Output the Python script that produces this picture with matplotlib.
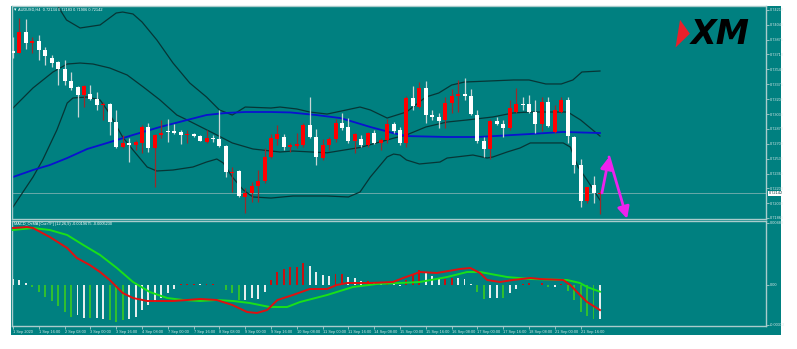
import matplotlib
matplotlib.use("Agg")
import matplotlib.pyplot as plt
from matplotlib.patches import Rectangle, Polygon
import numpy as np

# ---------------- data ----------------
opens = [0.73748,0.73725,0.73962,0.73838,0.73860,0.73759,0.73669,0.73624,0.73545,0.73410,
 0.73342,0.73252,0.73263,0.73207,0.73139,0.73150,0.72947,0.72665,0.72711,0.72688,
 0.72711,0.72891,0.72654,0.72801,0.72846,0.72846,0.72835,0.72801,0.72812,0.72789,
 0.72722,0.72767,0.72756,0.72677,0.72372,0.72395,0.72102,0.72147,0.72226,0.72282,
 0.72553,0.72756,0.72778,0.72665,0.72677,0.72688,0.72913,0.72778,0.72541,0.72688,
 0.72756,0.72936,0.72891,0.72733,0.72756,0.72688,0.72823,0.72711,0.72744,0.72925,
 0.72857,0.72711,0.73218,0.73116,0.73331,0.73026,0.73004,0.72970,0.73161,0.73240,
 0.73263,0.73240,0.73026,0.72733,0.72643,0.72959,0.72925,0.72880,0.73060,0.73150,
 0.73150,0.73060,0.72925,0.73173,0.72835,0.73060,0.73195,0.72778,0.72462,0.72057,
 0.72237,0.72134]
highs = [0.73906,0.74120,0.74110,0.73906,0.73928,0.73793,0.73703,0.73635,0.73646,0.73511,
 0.73350,0.73360,0.73364,0.73285,0.73173,0.73161,0.73083,0.72801,0.72767,0.72744,
 0.72913,0.72936,0.72810,0.72970,0.72981,0.72925,0.72857,0.72857,0.72823,0.72801,
 0.72857,0.72801,0.73083,0.72688,0.72440,0.72406,0.72203,0.72271,0.72406,0.72654,
 0.72812,0.72913,0.72812,0.72711,0.72823,0.72936,0.73229,0.72868,0.72756,0.72778,
 0.72981,0.73049,0.72992,0.72823,0.72801,0.72835,0.72857,0.72767,0.72981,0.72947,
 0.72891,0.73240,0.73353,0.73398,0.73410,0.73083,0.73049,0.73229,0.73319,0.73421,
 0.73444,0.73319,0.73083,0.72778,0.72981,0.73004,0.72970,0.73195,0.73331,0.73229,
 0.73252,0.73195,0.73229,0.73229,0.73139,0.73229,0.73229,0.72785,0.72530,0.72220,
 0.72338,0.72183]
lows = [0.73669,0.73720,0.73770,0.73725,0.73646,0.73590,0.73567,0.73364,0.73364,0.73308,
 0.73004,0.73116,0.73195,0.73083,0.72970,0.72801,0.72654,0.72654,0.72496,0.72632,
 0.72598,0.72609,0.72214,0.72767,0.72722,0.72812,0.72699,0.72711,0.72778,0.72730,
 0.72711,0.72722,0.72670,0.72327,0.72158,0.72102,0.71921,0.72045,0.72045,0.72260,
 0.72541,0.72688,0.72632,0.72609,0.72654,0.72665,0.72767,0.72462,0.72519,0.72632,
 0.72722,0.72857,0.72711,0.72598,0.72665,0.72665,0.72699,0.72632,0.72711,0.72823,
 0.72688,0.72665,0.73083,0.73110,0.72936,0.72970,0.72880,0.72880,0.73049,0.73060,
 0.73195,0.73026,0.72711,0.72553,0.72530,0.72913,0.72778,0.72857,0.73049,0.73083,
 0.73049,0.72823,0.72846,0.72895,0.72823,0.73049,0.72711,0.72372,0.71989,0.72034,
 0.72034,0.71906]
closes = [0.73725,0.73962,0.73838,0.73860,0.73759,0.73691,0.73612,0.73545,0.73410,0.73331,
 0.73252,0.73353,0.73207,0.73139,0.73150,0.72947,0.72665,0.72711,0.72688,0.72722,
 0.72891,0.72654,0.72801,0.72823,0.72835,0.72823,0.72801,0.72812,0.72789,0.72733,
 0.72767,0.72756,0.72677,0.72384,0.72384,0.72113,0.72147,0.72226,0.72282,0.72553,
 0.72767,0.72812,0.72665,0.72688,0.72699,0.72913,0.72778,0.72553,0.72688,0.72756,
 0.72936,0.72880,0.72733,0.72812,0.72688,0.72823,0.72711,0.72744,0.72925,0.72846,
 0.72711,0.73218,0.73128,0.73331,0.73026,0.73004,0.72959,0.73161,0.73240,0.73263,
 0.73240,0.73037,0.72733,0.72643,0.72959,0.72925,0.72880,0.73105,0.73150,0.73139,
 0.73060,0.72925,0.73173,0.72902,0.73083,0.73195,0.72789,0.72462,0.72057,0.72214,
 0.72147,0.72142]

# Bollinger bands (read at sample bars)
bb_upper_bar = [0, 3, 5, 6.8, 8.3, 10.4, 13.5, 16, 17, 18.6, 20, 22.3, 24.8, 27.4, 30, 32, 34, 36,
                40, 41.4, 44, 46, 48.7, 50.2, 53.8, 55.4, 58, 61, 64, 66, 68, 70, 74, 77.6, 80,
                82.6, 85, 86.8, 88.2, 91]
bb_upper = [0.74480, 0.74440, 0.74360, 0.74270, 0.74097, 0.74007, 0.74041, 0.74176, 0.74187,
            0.74165, 0.74075, 0.73872, 0.73613, 0.73387, 0.73229, 0.73083, 0.73026, 0.73116,
            0.73105, 0.73116, 0.73094, 0.73060, 0.73037, 0.73060, 0.73116, 0.73083, 0.72992,
            0.73060, 0.73229, 0.73274, 0.73364, 0.73398, 0.73410, 0.73421, 0.73421,
            0.73376, 0.73376, 0.73421, 0.73511, 0.73522]
bb_mid_bar = [0, 3.1, 6.2, 8.4, 10.4, 12.4, 15, 17.7, 20.2, 22.8, 25.4, 27, 31, 34, 37.2, 40, 41.4,
              43.4, 48.7, 53.8, 55.8, 59, 61, 64, 67.3, 70.4, 74.4, 77.5, 80, 83.7, 86, 88, 91]
bb_mid = [0.73105, 0.73331, 0.73511, 0.73601, 0.73612, 0.73601, 0.73556, 0.73477, 0.73342, 0.73195,
          0.73026, 0.72970, 0.72823, 0.72711, 0.72643, 0.72620, 0.72609, 0.72620, 0.72600, 0.72660,
          0.72700, 0.72765, 0.72801, 0.72891, 0.72947, 0.72970, 0.73004, 0.73049, 0.73060, 0.73060,
          0.73060, 0.72970, 0.72789]
bb_lower_bar = [0, 3.1, 4.6, 6.8, 8, 8.4, 9.3, 11.5, 13.5, 14.6, 15.5, 17, 18.6, 20.8, 22.3, 24.8,
                27.9, 30, 31.6, 32.6, 34, 35.7, 37.2, 40, 43.4, 48.7, 52, 53.8, 55.4, 58, 59, 60,
                61, 63, 66.2, 67.3, 71.3, 73.5, 74.4, 76.6, 78.6, 80.2, 85.3, 86.4, 87.6, 89, 91]
bb_lower = [0.71989, 0.72327, 0.72519, 0.72857, 0.73083, 0.73161, 0.73218, 0.73229, 0.73195, 0.73083,
            0.72970, 0.72778, 0.72632, 0.72440, 0.72395, 0.72406, 0.72440, 0.72496, 0.72530, 0.72485,
            0.72327, 0.72181, 0.72102, 0.72090, 0.72113, 0.72113, 0.72102, 0.72158, 0.72327, 0.72553,
            0.72586, 0.72575, 0.72519, 0.72474, 0.72496, 0.72541, 0.72575, 0.72541, 0.72553, 0.72609,
            0.72654, 0.72711, 0.72711, 0.72665, 0.72440, 0.72293, 0.72068]
# blue moving average
ma_bar = [0, 3.1, 5.7, 8.4, 11.5, 14.6, 18.6, 22.8, 27, 30, 33, 36, 40, 43, 47, 50.7, 51.8, 55.4,
          58.9, 61, 67.3, 72, 80.2, 85.3, 91]
ma_val = [0.72327, 0.72406, 0.72462, 0.72541, 0.72643, 0.72711, 0.72801, 0.72891, 0.72970, 0.73026,
          0.73049, 0.73060, 0.73060, 0.73055, 0.73026, 0.72992, 0.72970, 0.72891, 0.72823, 0.72789,
          0.72778, 0.72778, 0.72812, 0.72835, 0.72823]

# MACD_OsMA panel
macd_bar = [0, 2.2, 3.1, 5.7, 8.4, 9.9, 11.9, 13.5, 15, 17, 18.6, 20.8, 24.8, 27, 29, 31.6, 34, 36.3,
            37.8, 39.4, 41, 43.4, 46, 48.7, 50.2, 51.8, 55.3, 58.9, 60.5, 63.1, 65.7, 69.3, 70.9,
            72.4, 73.5, 75.5, 77.5, 80.2, 81.7, 85.3, 86.4, 87.9, 89, 91]
macd_val = [0.004475, 0.004553, 0.004475, 0.003768, 0.002905, 0.00212, 0.00157, 0.00102, 0.000393,
            -0.000628, -0.00102, -0.001256, -0.001256, -0.001178, -0.001099, -0.001178, -0.00157,
            -0.00212, -0.002198, -0.001963, -0.001178, -0.000785, -0.000314, -0.000314, 0.0,
            0.000157, 0.000157, 0.000236, 0.00055, 0.00102, 0.000942, 0.001256, 0.001335, 0.000942,
            0.000393, 0.000236, 0.000393, 0.00055, 0.000471, 0.000393, 0.0, -0.000785, -0.001335,
            -0.0019675]
signal_bar = [0, 3.1, 5.7, 8.4, 10.9, 13.5, 16.1, 18.6, 21.2, 23.9, 26.4, 29, 31.6, 34.1, 36.7, 39.8,
              42.5, 44.5, 48.7, 52.7, 56.4, 60, 63.1, 67.3, 70.4, 72.4, 76.6, 80.2, 85.9, 87.9, 89, 91]
signal_val = [0.004318, 0.004475, 0.004318, 0.003925, 0.00314, 0.002355, 0.001335, 0.000236, -0.00055,
              -0.00102, -0.001178, -0.001256, -0.001178, -0.001256, -0.001413, -0.001727, -0.001727,
              -0.001335, -0.000785, -0.000157, 0.0000785, 0.000157, 0.000236, 0.000628, 0.00102,
              0.00102, 0.000628, 0.000471, 0.000393, 0.000157, -0.000157, -0.000523]
osma = [0.000471,0.000393,0.000157,-0.000157,-0.00055,-0.000942,-0.001256,-0.001649,-0.00212,-0.002512,
 -0.002355,-0.002591,-0.002591,-0.002591,-0.002669,-0.002748,-0.002905,-0.002748,-0.002669,-0.002512,
 -0.001963,-0.00157,-0.001335,-0.001021,-0.000628,-0.000314,0.000039,0.0000785,0.0000785,0.0000785,
 0.0000785,0.0000785,-0.000039,-0.000393,-0.000628,-0.001178,-0.001178,-0.001021,-0.001099,-0.00055,
 0.000393,0.001021,0.001256,0.001413,0.001413,0.001727,0.001492,0.001021,0.000785,0.000707,
 0.000864,0.000864,0.000628,0.00055,0.000314,0.000314,0.000157,0.000157,0.000236,0.000157,
 -0.0000785,0.000393,0.000785,0.001178,0.001021,0.000707,0.000471,0.000471,0.00055,0.00055,
 0.000471,0.0000785,-0.00055,-0.001099,-0.001021,-0.001021,-0.001021,-0.000628,-0.000314,0.0000785,
 0.000157,-0.000039,0.000157,-0.000157,-0.000157,0.0000785,-0.000471,-0.001178,-0.00212,-0.002434,
 -0.002669,-0.002669]
# histogram state codes as shown: R = up (positive), G = down (negative), W = the other phase
osma_state = list("WWWGGGGGGG" "WWGWWGGGWW" "WWWWWWRRRW" "RRWGGGWWWW" "RRRRRRWWWW"
                  "RRWWWRWWRW" "WRRRWWWRRW" "WWGGWWGWWR" "RWRGWRGGGG" "GW")

price_ticks = [0.74210, 0.74045, 0.73875, 0.73710, 0.73540, 0.73375, 0.73205, 0.73035, 0.72870,
               0.72700, 0.72535, 0.72365, 0.72200, 0.72030, 0.71865]
macd_ticks = [0.00488, 0.0, -0.00312]
macd_tick_labels = ["0.00488", "0.00", "-0.00312"]
time_tick_bars = list(range(0, 92, 4))
time_labels = ["1 Sep 2020", "1 Sep 16:00", "2 Sep 08:00", "3 Sep 00:00", "3 Sep 16:00", "4 Sep 08:00",
               "7 Sep 00:00", "7 Sep 16:00", "8 Sep 08:00", "9 Sep 00:00", "9 Sep 16:00",
               "10 Sep 08:00", "11 Sep 00:00", "11 Sep 16:00", "14 Sep 08:00", "15 Sep 00:00",
               "15 Sep 16:00", "16 Sep 08:00", "17 Sep 00:00", "17 Sep 16:00", "18 Sep 08:00",
               "21 Sep 00:00", "21 Sep 16:00"]
last_price = 0.72142
arrow_bar = [91.3, 92.4, 95.2]
arrow_price = [0.72147, 0.72553, 0.71856]

symbol_header = "AUDUSD,H4  0.72134 0.72183 0.71906 0.72142"
macd_header = "MACD_OsMA [CurrTF] (12,26,9) -0.0019675 -0.0005230"

# ---------------- style ----------------
W, H = 797, 349
TEAL = "#008080"
FRAME = "#a9cccc"
LBL = "#d8e8e8"
FS = 2.8
FONT = "Liberation Sans"

fig = plt.figure(figsize=(W / 100, H / 100), dpi=100, facecolor="white")

def fx(px):
    return px / W

def fy(py):
    return 1 - py / H

bg = Rectangle((fx(11), fy(335)), (781 - 11) / W, (335 - 6) / H,
               transform=fig.transFigure, facecolor=TEAL, edgecolor="none", zorder=-10)
fig.patches.append(bg)

ax = fig.add_axes([fx(12), fy(219), 754 / W, 213 / H])
ax2 = fig.add_axes([fx(12), fy(326), 754 / W, 105 / H], sharex=ax)
for a in (ax, ax2):
    a.set_facecolor(TEAL)
    for s in a.spines.values():
        s.set_color(FRAME)
        s.set_linewidth(1.0)
    a.yaxis.tick_right()
    a.tick_params(axis="y", colors=FRAME, labelcolor=LBL, labelsize=FS, length=2, width=0.6, pad=0.8)

x = np.arange(len(opens))
o = np.array(opens); c = np.array(closes); h = np.array(highs); l = np.array(lows)
bull = c >= o
ax.set_xlim(-0.155, 116.74)
ax.set_ylim(0.718537, 0.74255)

# current price line
ax.axhline(last_price, color="#6aa9a9", lw=0.7, zorder=1)

# bands
ax.plot(bb_upper_bar, bb_upper, color="#073535", lw=0.9, zorder=2)
ax.plot(bb_mid_bar, bb_mid, color="#073535", lw=0.9, zorder=2)
ax.plot(bb_lower_bar, bb_lower, color="#073535", lw=0.9, zorder=2)
ax.plot(ma_bar, ma_val, color="#0a12d0", lw=1.3, zorder=2)

# candles
wick_col = np.where(bull, "#9b2a2a", "#c9d6d6")
ax.vlines(x, l, h, colors=wick_col, lw=0.9, zorder=3)
body_low = np.minimum(o, c)
body_h = np.maximum(np.abs(c - o), 0.00003)
body_col = np.where(bull, "#ff0000", "#ffffff")
ax.bar(x, body_h, bottom=body_low, width=0.62, color=body_col, edgecolor="none", zorder=4)

# magenta arrows
for i in range(2):
    ax.annotate("", xy=(arrow_bar[i + 1], arrow_price[i + 1]), xytext=(arrow_bar[i], arrow_price[i]),
                arrowprops=dict(arrowstyle="-|>,head_length=0.7,head_width=0.35", color="#ee22ee",
                                lw=2, shrinkA=0, shrinkB=0),
                zorder=6, annotation_clip=False)

ax.set_yticks(price_ticks)
ax.set_yticklabels([f"{p:.5f}" for p in price_ticks], family=FONT)
ax.tick_params(axis="x", bottom=False, labelbottom=False)

# current price tag
ax.text(1.0035, last_price, f"{last_price:.5f}", transform=ax.get_yaxis_transform(), fontsize=FS,
        family=FONT, color="#003838", va="center", ha="left",
        bbox=dict(boxstyle="square,pad=0.12", facecolor="white", edgecolor="none"), zorder=10,
        clip_on=False)

# XM logo
ax.add_patch(Polygon([(0.886, 0.935), (0.899, 0.87), (0.880, 0.805)], closed=True, transform=ax.transAxes,
                     facecolor="#e8202a", edgecolor="none", zorder=5))
ax.text(0.939, 0.866, "XM", transform=ax.transAxes, fontsize=24, fontweight="heavy", style="italic",
        color="black", ha="center", va="center", zorder=5)

# header
fig.text(fx(14), fy(10), "\u25be", fontsize=3.5, color="white", va="center", ha="left")
fig.text(fx(18.5), fy(10), symbol_header, fontsize=FS, family=FONT, color="white", va="center", ha="left")

# MACD panel
hist_col = []
for v, s in zip(osma, osma_state):
    if s == "R":
        hist_col.append("#c81010")
    elif s == "G":
        hist_col.append("#2fbf2f")
    else:
        hist_col.append("#e6eeee")
ax2.bar(x, osma, width=0.3, color=hist_col, edgecolor="none", zorder=2)
ax2.plot(signal_bar, signal_val, color="#19e019", lw=1.4, zorder=3)
ax2.plot(macd_bar, macd_val, color="#e01010", lw=1.4, zorder=4)
ax2.set_ylim(-0.003219, 0.005024)
ax2.set_yticks(macd_ticks)
ax2.set_yticklabels(macd_tick_labels, family=FONT)
ax2.set_xticks(time_tick_bars)
ax2.set_xticklabels(time_labels, family=FONT)
ax2.tick_params(axis="x", colors=FRAME, labelcolor=LBL, labelsize=FS, length=2, width=0.6, pad=1.0)
for t in ax2.get_xticklabels():
    t.set_ha("left")
fig.text(fx(14), fy(224.5), macd_header, fontsize=FS, family=FONT, color="white", va="center", ha="left")

fig.savefig("out.png", dpi=100, facecolor="white")
